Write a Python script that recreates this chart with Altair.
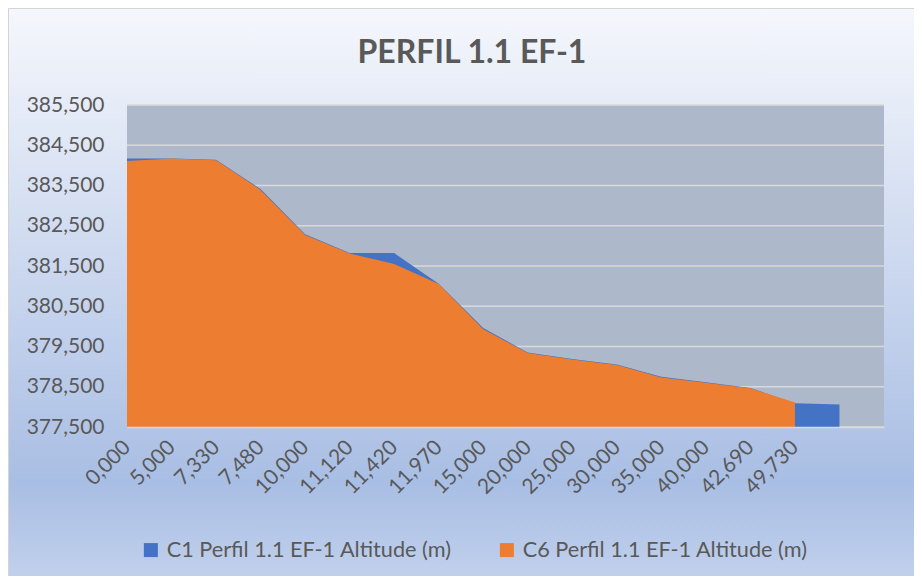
import altair as alt
import pandas as pd

# ---- data ----
CATEGORIES = ["0,000", "5,000", "7,330", "7,480", "10,000", "11,120", "11,420", "11,970",
              "15,000", "20,000", "25,000", "30,000", "35,000", "40,000", "42,690", "49,730"]
C1_ALT = [384.17, 384.17, 384.14, 383.41, 382.29, 381.82, 381.82, 381.06, 379.96,
          379.35, 379.19, 379.05, 378.75, 378.61, 378.47, 378.09, 378.06]
C6_ALT = [384.11, 384.17, 384.13, 383.39, 382.27, 381.81, 381.55, 381.05, 379.93,
          379.34, 379.18, 379.04, 378.73, 378.60, 378.46, 378.11]
Y_TICKS = [377.5, 378.5, 379.5, 380.5, 381.5, 382.5, 383.5, 384.5, 385.5]
SERIES = ["C1 Perfil 1.1 EF-1 Altitude (m)", "C6 Perfil 1.1 EF-1 Altitude (m)"]
COLORS = ["#4472C4", "#ED7D31"]
TITLE = "PERFIL 1.1 EF-1"

rows = []
for i, v in enumerate(C1_ALT):
    rows.append({"idx": i, "alt": v, "series": SERIES[0]})
for i, v in enumerate(C6_ALT):
    rows.append({"idx": i, "alt": v, "series": SERIES[1]})
df = pd.DataFrame(rows)

W, H = 757, 322
FONT = "Lato"
TXT = "#595959"

label_js = "[" + ",".join("'" + c + "'" for c in CATEGORIES) + "][datum.value]"

x_enc = alt.X("idx:Q",
              scale=alt.Scale(domain=[0, len(CATEGORIES) + 1], nice=False, zero=False),
              axis=alt.Axis(values=list(range(len(CATEGORIES))), labelExpr=label_js,
                            labelAngle=-45, labelAlign="right", labelBaseline="middle",
                            labelFontSize=21, labelFont=FONT, labelColor=TXT,
                            labelPadding=17, ticks=False, tickSize=0, grid=False,
                            domainColor="#d9d9d9", domainWidth=1.5, title=None,
                            zindex=1, labelOverlap=False))
y_scale = alt.Scale(domain=[Y_TICKS[0], Y_TICKS[-1]], nice=False, zero=False)
y_enc = alt.Y("alt:Q", scale=y_scale,
              axis=alt.Axis(values=Y_TICKS,
                            labelExpr="replace(format(datum.value, '.3f'), '.', ',')",
                            labelFontSize=21, labelFont=FONT, labelColor=TXT,
                            labelPadding=23, ticks=False, tickSize=0, grid=False,
                            domain=False, title=None, zindex=1))
color_enc = alt.Color("series:N",
                      scale=alt.Scale(domain=SERIES, range=COLORS),
                      legend=alt.Legend(orient="none", direction="horizontal",
                                        legendX=13, legendY=434, title=None,
                                        symbolType="square", symbolSize=196,
                                        symbolStrokeWidth=0, symbolOpacity=1,
                                        labelFontSize=21.7, labelFont=FONT,
                                        labelColor=TXT, columnPadding=44,
                                        labelOffset=5, labelLimit=400))

one = pd.DataFrame({"k": [0]})
bg = alt.Chart(one).mark_rect(
    fill=alt.LinearGradient(gradient="linear", x1=0, x2=0, y1=0, y2=1,
                            stops=[alt.GradientStop(color="#f5f7fc", offset=0),
                                   alt.GradientStop(color="#a9bee4", offset=0.82),
                                   alt.GradientStop(color="#c3d2ed", offset=1)]),
    stroke="#d4d4d4", strokeWidth=1
).encode(x=alt.value(-118.5), x2=alt.value(W + 40), y=alt.value(-96.5), y2=alt.value(H + 160))

title = alt.Chart(one).mark_text(
    text=TITLE, font=FONT, fontSize=32, fontWeight="bold", color=TXT,
    align="center", baseline="alphabetic"
).encode(x=alt.value(345), y=alt.value(-42))

plot_bg = alt.Chart(one).mark_rect(fill="#adb9cb").encode(
    x=alt.value(0), x2=alt.value(W), y=alt.value(0), y2=alt.value(H))

grid = alt.Chart(pd.DataFrame({"alt": Y_TICKS})).mark_rule(
    color="#d9d9d9", strokeWidth=1.5).encode(y=y_enc)

blue = alt.Chart(df).transform_filter(
    alt.datum.series == SERIES[0]).mark_area(opacity=1, clip=True).encode(
    x=x_enc, y=y_enc, color=color_enc)
orange = alt.Chart(df).transform_filter(
    alt.datum.series == SERIES[1]).mark_area(opacity=1, clip=True).encode(
    x=x_enc, y=y_enc, color=color_enc)

chart = alt.layer(bg, title, plot_bg, grid, blue, orange).properties(
    width=W, height=H,
    autosize=alt.AutoSizeParams(type="none"),
    padding={"left": 119, "top": 97, "right": 30, "bottom": 149},
).configure_view(stroke=None)

chart.save("out.html", embed_options={"renderer": "svg", "actions": False})
